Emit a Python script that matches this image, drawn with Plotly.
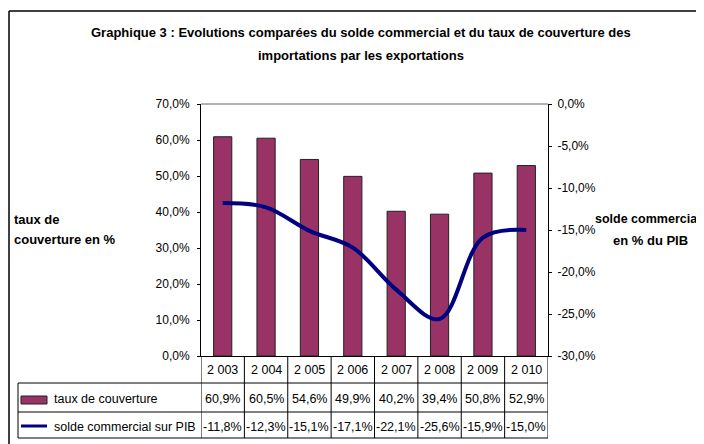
import plotly.graph_objects as go

# data
years = ["2 003", "2 004", "2 005", "2 006", "2 007", "2 008", "2 009", "2 010"]
taux_couverture = [60.9, 60.5, 54.6, 49.9, 40.2, 39.4, 50.8, 52.9]
solde_pib = [-11.8, -12.3, -15.1, -17.1, -22.1, -25.6, -15.9, -15.0]
left_ticks = [0, 10, 20, 30, 40, 50, 60, 70]
right_ticks = [-30, -25, -20, -15, -10, -5, 0]

BAR_COLOR = "#993366"
LINE_COLOR = "#000080"
FONT = "Liberation Sans, Arial, sans-serif"

# window is 704 x 444, the page body keeps its default 8px margin
WIN_W, WIN_H, OFF = 704, 444, 8
# plot area in window pixels
L, R, T, B = 201, 548, 104, 356


def fx(p):
    return (p - L) / (R - L)


def fy(p):
    return (B - p) / (B - T)


def pct(v):
    return f"{v:.1f}".replace(".", ",") + "%"


fig = go.Figure()

fig.add_trace(go.Bar(
    x=years, y=taux_couverture, name="taux de couverture",
    marker=dict(color=BAR_COLOR, line=dict(color="#222222", width=1)),
    width=0.42,
))

fig.add_trace(go.Scatter(
    x=years, y=solde_pib, name="solde commercial sur PIB", yaxis="y2",
    mode="lines", line=dict(color=LINE_COLOR, width=4, shape="spline", smoothing=1.0),
))

axis_common = dict(showgrid=False, zeroline=False, showline=True, linecolor="black",
                   linewidth=1, tickcolor="black", ticklen=3, tickwidth=1,
                   tickfont=dict(size=12, color="black"))

fig.update_layout(
    width=WIN_W - OFF, height=WIN_H - OFF,
    margin=dict(l=L - OFF, r=WIN_W - R, t=T - OFF, b=WIN_H - B),
    paper_bgcolor="white", plot_bgcolor="white",
    font=dict(family=FONT, size=12, color="black"),
    showlegend=False,
    bargap=0.5,
    xaxis=dict(type="category", range=[-0.5, 7.5], showline=True, linecolor="black",
               linewidth=1, showticklabels=False, ticks="", showgrid=False),
    yaxis=dict(range=[0, 70], tickvals=left_ticks, ticktext=[pct(v) for v in left_ticks],
               ticks="outside", ticklabelstandoff=5, **axis_common),
    yaxis2=dict(range=[-30, 0], overlaying="y", side="right", tickvals=right_ticks,
                ticktext=[pct(v) for v in right_ticks], ticks="outside",
                ticklabelstandoff=3, **axis_common),
    yaxis3=dict(range=[0, 70], overlaying="y", side="left", tickvals=left_ticks,
                ticks="inside", ticklen=3, tickcolor="black", showticklabels=False,
                showline=False, showgrid=False, zeroline=False),
    yaxis4=dict(range=[-30, 0], overlaying="y", side="right", tickvals=right_ticks,
                ticks="inside", ticklen=3, tickcolor="black", showticklabels=False,
                showline=False, showgrid=False, zeroline=False),
)

shapes = []


def hline(x0, x1, y, color="black", width=1):
    shapes.append(dict(type="line", xref="paper", yref="paper", x0=fx(x0), x1=fx(x1),
                       y0=fy(y), y1=fy(y), line=dict(color=color, width=width)))


def vline(x, y0, y1, color="black", width=1):
    shapes.append(dict(type="line", xref="paper", yref="paper", x0=fx(x), x1=fx(x),
                       y0=fy(y0), y1=fy(y1), line=dict(color=color, width=width)))


# outer frame (cropped on the right and bottom)
hline(9, WIN_W + 5, 11, width=1.5)
vline(9, 11, WIN_H + 5, width=1.5)

# plot area top border
hline(L, R, T, color="#9a9a9a", width=1.5)

# data table grid
ROW_Y = [383, 412, 438]
TABLE_LEFT = 18
for y in ROW_Y:
    hline(TABLE_LEFT, R, y)
vline(TABLE_LEFT, ROW_Y[0], ROW_Y[-1])
for i in range(len(years) + 1):
    shapes.append(dict(type="line", xref="x", yref="paper", x0=i - 0.5, x1=i - 0.5,
                       y0=fy(B), y1=fy(ROW_Y[-1]), line=dict(color="black", width=1)))

# legend keys inside the table
shapes.append(dict(type="rect", xref="paper", yref="paper", x0=fx(21), x1=fx(47),
                   y0=fy(404), y1=fy(396), fillcolor=BAR_COLOR,
                   line=dict(color="#222222", width=1)))
hline(21, 47, 426, color=LINE_COLOR, width=3)

fig.update_layout(shapes=shapes)

annotations = []


def text(x, y, s, xanchor="center", bold=False, xref="paper", size=12.5):
    annotations.append(dict(
        x=fx(x) if xref == "paper" else x, y=fy(y), xref=xref, yref="paper",
        text=f"<b>{s}</b>" if bold else s, showarrow=False,
        xanchor=xanchor, yanchor="middle", font=dict(size=size, color="black"),
    ))


# title
text(361, 33, "Graphique 3 : Evolutions comparées du solde commercial et du taux de couverture des",
     bold=True, size=13)
text(361, 55, "importations par les exportations", bold=True, size=13)

# axis titles
text(12, 219, "taux de", xanchor="left", bold=True, size=13)
text(12, 239, "couverture en %", xanchor="left", bold=True, size=13)
text(646, 219, "solde commercia", bold=True, size=12.5)
text(650, 240, "en % du PIB", bold=True, size=13)

# table content
for i, yr in enumerate(years):
    text(yr, 370, yr, xref="x")
    text(yr, 399, pct(taux_couverture[i]), xref="x")
    text(yr, 427, pct(solde_pib[i]), xref="x")
text(52, 399, "taux de couverture", xanchor="left")
text(52, 427, "solde commercial sur PIB", xanchor="left")

fig.update_layout(annotations=annotations)

fig.write_html("out.html")
